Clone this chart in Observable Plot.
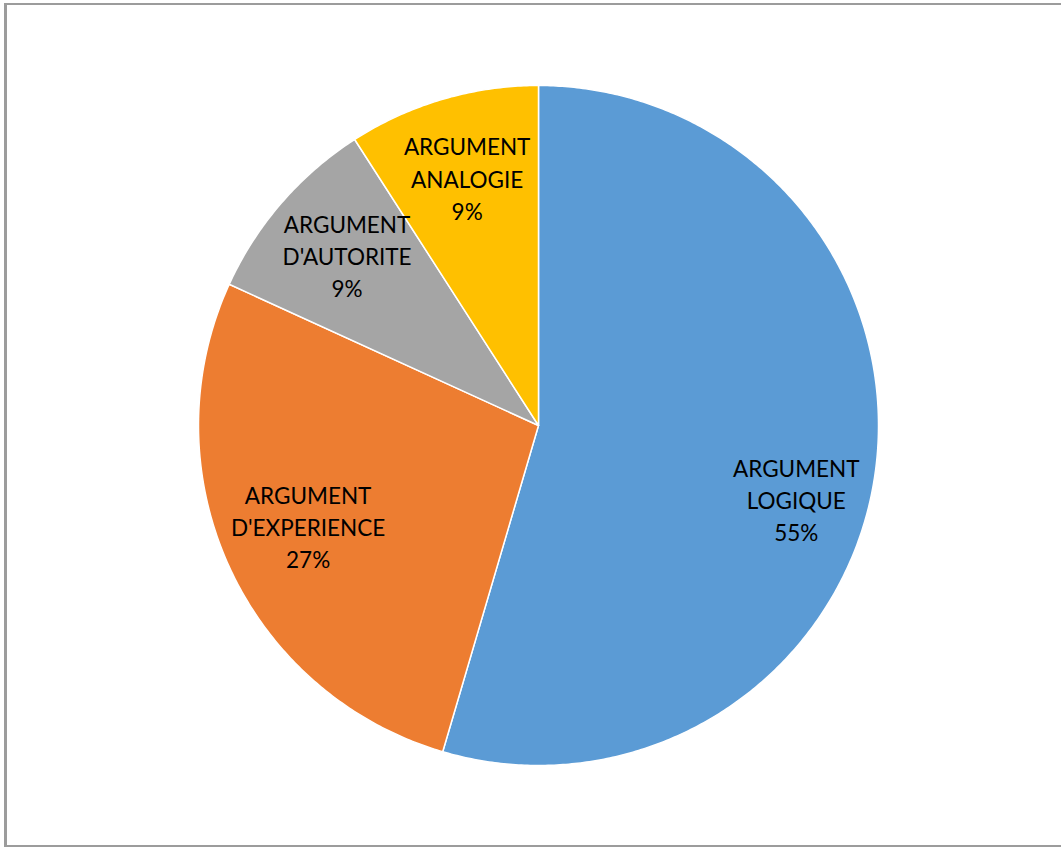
<!DOCTYPE html>
<html>
<head>
<meta charset="utf-8">
<script src="https://cdn.jsdelivr.net/npm/d3@7"></script>
<script src="https://cdn.jsdelivr.net/npm/@observablehq/plot@0.6"></script>
<style>
  html, body { margin: 0; padding: 0; background: #fff; }
  #wrap { position: relative; width: 1061px; height: 847px; overflow: hidden; }
  #frame { position: absolute; left: 4px; top: 3px; width: 1100px; height: 844px; box-sizing: border-box;
           border-left: 3px solid #9c9c9c; border-top: 2px solid #9c9c9c; border-bottom: 2px solid #9c9c9c; }
  #chart { position: absolute; left: 0; top: 0; }
</style>
</head>
<body>
<div id="wrap"><div id="frame"></div><div id="chart"></div></div>
<script>
// Data
const categories = ["ARGUMENT LOGIQUE", "ARGUMENT D'EXPERIENCE", "ARGUMENT D'AUTORITE", "ARGUMENT ANALOGIE"];
const labelLines = [["ARGUMENT", "LOGIQUE"], ["ARGUMENT", "D'EXPERIENCE"], ["ARGUMENT", "D'AUTORITE"], ["ARGUMENT", "ANALOGIE"]];
const counts = [6, 3, 1, 1];
const percentLabels = ["55%", "27%", "9%", "9%"];

const colors = ["#5B9BD5", "#ED7D31", "#A5A5A5", "#FFC000"];

// Build slices from data via d3.pie (start at top, clockwise)
const arcs = d3.pie().sort(null).value(d => d)(counts);
const pts = [];
const labels = [];
arcs.forEach((a, i) => {
  const name = categories[i];
  pts.push({name, x: 0, y: 0});
  const n = Math.max(2, Math.ceil((a.endAngle - a.startAngle) / (Math.PI / 360)));
  for (let k = 0; k <= n; k++) {
    const t = a.startAngle + (a.endAngle - a.startAngle) * k / n;
    pts.push({name, x: Math.sin(t), y: Math.cos(t)});
  }
  pts.push({name, x: 0, y: 0});
  const mid = (a.startAngle + a.endAngle) / 2;
  const r = 0.745;
  labels.push({
    name,
    big: a.endAngle - a.startAngle > Math.PI,
    x: r * Math.sin(mid),
    y: r * Math.cos(mid),
    text: labelLines[i].concat([percentLabels[i]]).join("\n")
  });
});

const textOpts = {
  x: "x", y: "y", text: "text", fill: "#000", fontSize: 22.5, lineHeight: 1.44,
  lineAnchor: "middle", textAnchor: "middle",
  fontFamily: "Lato, 'Open Sans', sans-serif"
};

const chart = Plot.plot({
  width: 1061,
  height: 847,
  marginLeft: 198,
  marginRight: 183,
  marginTop: 85,
  marginBottom: 82,
  x: {domain: [-1, 1], axis: null},
  y: {domain: [-1, 1], axis: null},
  color: {domain: categories, range: colors},
  style: {background: "transparent", overflow: "visible"},
  marks: [
    Plot.line(pts, {x: "x", y: "y", z: "name", fill: "name", stroke: "white", strokeWidth: 1.5, strokeLinejoin: "round"}),
    Plot.text(labels.filter(d => !d.big), {...textOpts, dy: -5}),
    Plot.text(labels.filter(d => d.big), {...textOpts, dx: 7, dy: 37})
  ]
});
document.getElementById("chart").appendChild(chart);
</script>
</body>
</html>
